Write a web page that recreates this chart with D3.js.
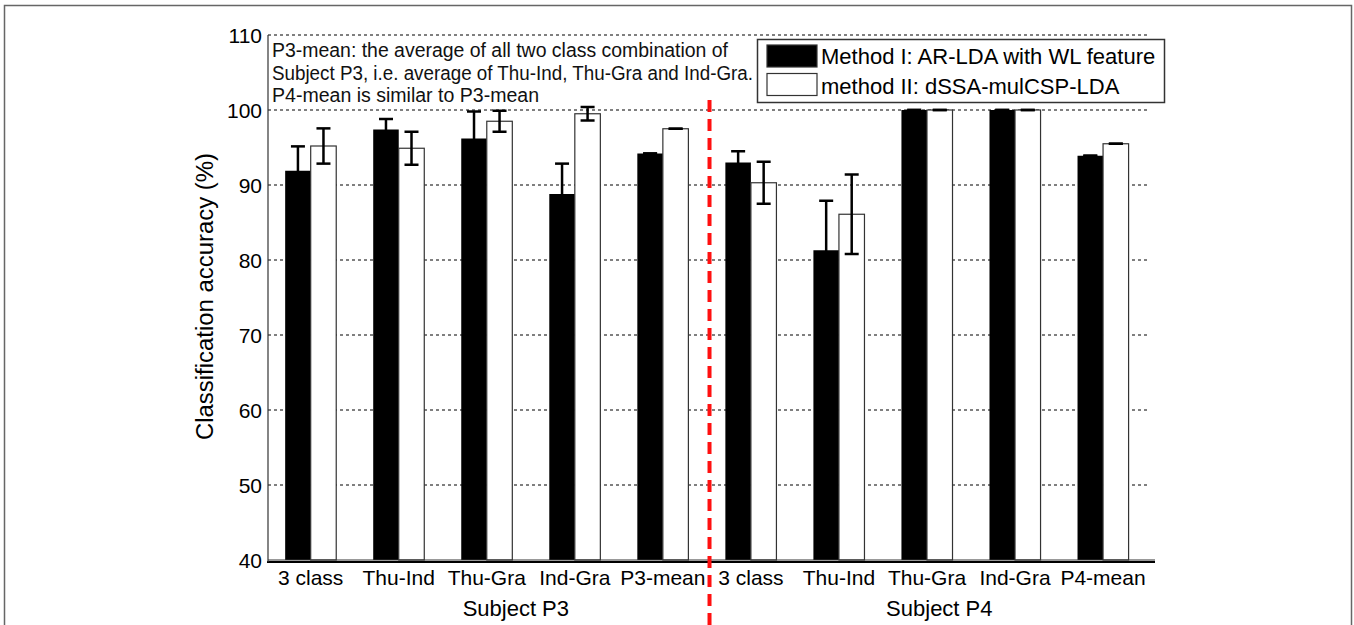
<!DOCTYPE html>
<html>
<head>
<meta charset="utf-8">
<script src="https://cdn.jsdelivr.net/npm/d3@7"></script>
<style>
  body { margin: 0; background: #fff; }
  svg { display: block; font-family: 'Liberation Sans', Arial, sans-serif; }
</style>
</head>
<body>
<div id="chart"></div>
<script>
const categories = ['3 class', 'Thu-Ind', 'Thu-Gra', 'Ind-Gra', 'P3-mean',
  '3 class', 'Thu-Ind', 'Thu-Gra', 'Ind-Gra', 'P4-mean'];
const methodI = [91.9, 97.4, 96.2, 88.8, 94.2, 93.0, 81.3, 100, 100, 93.9];
const methodIErr = [3.25, 1.4, 3.6, 4.05, 0, 1.5, 6.6, 0, 0, 0];
const methodII = [95.2, 94.9, 98.5, 99.5, 97.5, 90.3, 86.1, 100, 100, 95.5];
const methodIIErr = [2.35, 2.2, 1.4, 0.9, 0, 2.8, 5.3, 0, 0, 0];
const subjects = ['Subject P3', 'Subject P4'];
const subjectPos = [3.33, 8.14];
const yTicks = [40, 50, 60, 70, 80, 90, 100, 110];
const legendLabels = ['Method I: AR-LDA with WL feature', 'method II: dSSA-mulCSP-LDA'];
const noteLines = [
  'P3-mean: the average of all two class combination of',
  'Subject P3, i.e. average of Thu-Ind, Thu-Gra and Ind-Gra.',
  'P4-mean is similar to P3-mean'
];

const W = 1354, H = 625;
const svg = d3.select('#chart').append('svg')
  .attr('width', W).attr('height', H);

// outer frame
svg.append('rect')
  .attr('x', 4.5).attr('y', 5.5).attr('width', 1347).attr('height', 640)
  .attr('fill', 'none').attr('stroke', '#666').attr('stroke-width', 1.5);

const x = d3.scaleLinear().domain([0.515, 10.59]).range([268, 1155]);
const y = d3.scaleLinear().domain([40, 110]).range([560, 35]);
const barW = 0.29;

// grid
svg.append('g').selectAll('line')
  .data(yTicks.filter(t => t > 40))
  .enter().append('line')
  .attr('x1', x(0.515)).attr('x2', 1150)
  .attr('y1', d => y(d)).attr('y2', d => y(d))
  .attr('stroke', '#000').attr('stroke-width', 1)
  .attr('stroke-dasharray', '3,3');

// y tick labels
svg.append('g').selectAll('text')
  .data(yTicks)
  .enter().append('text')
  .attr('x', 262).attr('y', d => y(d) + 7.5)
  .attr('text-anchor', 'end')
  .attr('font-size', '21px')
  .text(d => d);

svg.append('text')
  .attr('transform', `translate(213, 296.5) rotate(-90)`)
  .attr('text-anchor', 'middle')
  .attr('font-size', '23px')
  .attr('textLength', 287).attr('lengthAdjust', 'spacingAndGlyphs')
  .text('Classification accuracy (%)');

// bars
const idx = d3.range(categories.length);
svg.append('g').selectAll('rect')
  .data(idx)
  .enter().append('rect')
  .attr('x', i => x(i + 1 - barW))
  .attr('width', x(1) - x(1 - barW))
  .attr('y', i => y(methodI[i]))
  .attr('height', i => y(40) - y(methodI[i]))
  .attr('fill', '#000');

svg.append('g').selectAll('rect')
  .data(idx)
  .enter().append('rect')
  .attr('x', i => x(i + 1))
  .attr('width', x(1) - x(1 - barW))
  .attr('y', i => y(methodII[i]))
  .attr('height', i => y(40) - y(methodII[i]))
  .attr('fill', '#fff').attr('stroke', '#333').attr('stroke-width', 1.2);

// error bars
function errorBars(vals, errs, offset) {
  const g = svg.append('g').attr('stroke', '#000').attr('stroke-width', 2.5);
  idx.forEach(i => {
    const cx = x(i + 1 + offset);
    const top = y(vals[i] + errs[i]), bot = y(vals[i] - errs[i]);
    g.append('line').attr('x1', cx).attr('x2', cx).attr('y1', top).attr('y2', bot);
    g.append('line').attr('x1', cx - 7).attr('x2', cx + 7).attr('y1', top).attr('y2', top);
    g.append('line').attr('x1', cx - 7).attr('x2', cx + 7).attr('y1', bot).attr('y2', bot);
  });
}
errorBars(methodI, methodIErr, -barW / 2);
errorBars(methodII, methodIIErr, barW / 2);

// axes lines
svg.append('line')
  .attr('x1', x(0.515)).attr('x2', x(10.59))
  .attr('y1', y(40)).attr('y2', y(40))
  .attr('stroke', '#333').attr('stroke-width', 1);
svg.append('line')
  .attr('x1', x(0.515) - 1).attr('x2', x(10.59))
  .attr('y1', y(40) + 2).attr('y2', y(40) + 2)
  .attr('stroke', '#000').attr('stroke-width', 2);
svg.append('line')
  .attr('x1', x(0.515)).attr('x2', x(0.515))
  .attr('y1', y(110)).attr('y2', y(40) + 2)
  .attr('stroke', '#333').attr('stroke-width', 1.2);

// x tick labels
svg.append('g').selectAll('text')
  .data(idx)
  .enter().append('text')
  .attr('x', i => x(i + 1))
  .attr('y', 585)
  .attr('text-anchor', 'middle')
  .attr('font-size', '21px')
  .text(i => categories[i]);

svg.append('g').selectAll('text')
  .data(subjects)
  .enter().append('text')
  .attr('x', (d, k) => x(subjectPos[k]))
  .attr('y', 616)
  .attr('text-anchor', 'middle')
  .attr('font-size', '22px')
  .text(d => d);

// separator
svg.append('line')
  .attr('x1', x(5.53)).attr('x2', x(5.53))
  .attr('y1', 100).attr('y2', H)
  .attr('stroke', '#ff1010').attr('stroke-width', 4)
  .attr('stroke-dasharray', '12,7');

// note
const noteWidths = [456, 481, 267];
svg.append('g').selectAll('text')
  .data(noteLines)
  .enter().append('text')
  .attr('x', 272).attr('y', (d, k) => 57 + k * 22.5)
  .attr('font-size', '19.5px')
  .attr('fill', '#111')
  .attr('textLength', (d, k) => noteWidths[k])
  .attr('lengthAdjust', 'spacingAndGlyphs')
  .text(d => d);

// legend
const lg = svg.append('g');
lg.append('rect')
  .attr('x', 757.5).attr('y', 39.5).attr('width', 407).attr('height', 63)
  .attr('fill', '#fff').attr('stroke', '#333').attr('stroke-width', 1.5);
legendLabels.forEach((t, k) => {
  lg.append('rect')
    .attr('x', 767).attr('y', 45 + k * 28.5).attr('width', 50).attr('height', 22)
    .attr('fill', k === 0 ? '#000' : '#fff')
    .attr('stroke', '#333').attr('stroke-width', 1.2);
  lg.append('text')
    .attr('x', 821).attr('y', 64 + k * 30)
    .attr('font-size', '22px')
    .text(t);
});
</script>
</body>
</html>
